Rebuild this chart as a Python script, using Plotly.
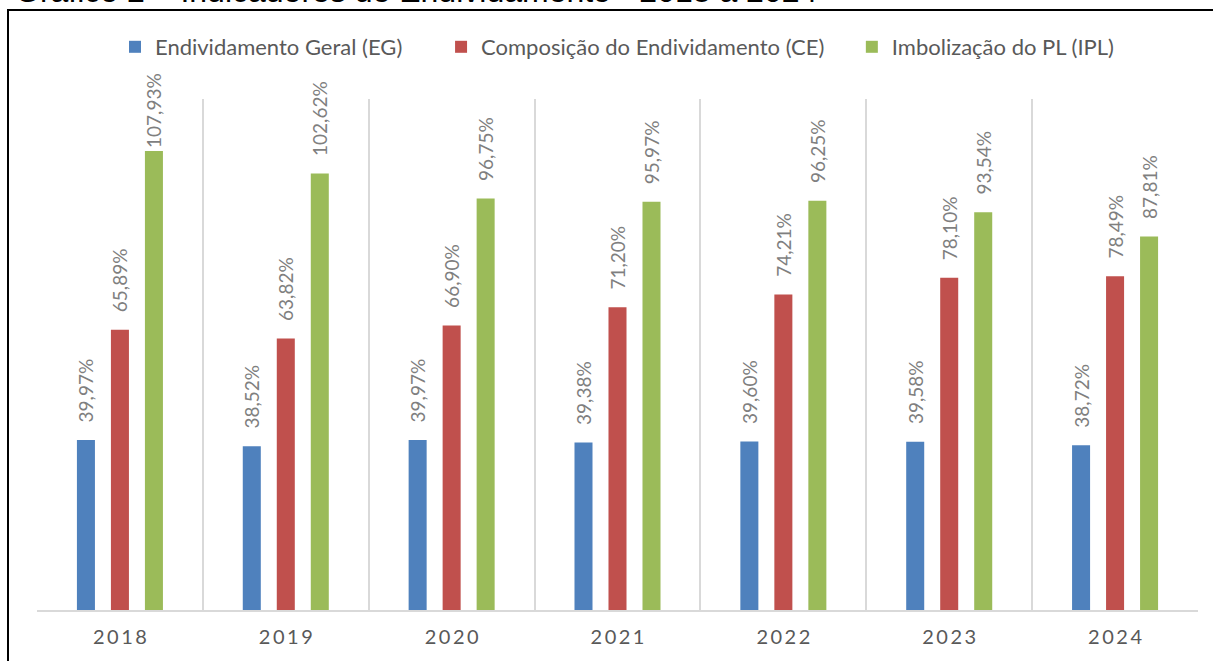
import plotly.graph_objects as go

years = ["2018", "2019", "2020", "2021", "2022", "2023", "2024"]
series_names = ["Endividamento Geral (EG)", "Composição do Endividamento (CE)", "Imbolização do PL (IPL)"]
eg = [39.97, 38.52, 39.97, 39.38, 39.60, 39.58, 38.72]
ce = [65.89, 63.82, 66.90, 71.20, 74.21, 78.10, 78.49]
ipl = [107.93, 102.62, 96.75, 95.97, 96.25, 93.54, 87.81]
colors = ["#4F81BD", "#C0504D", "#9BBB59"]
title_text = "Gráfico 2 – Indicadores de Endividamento - 2018 a 2024"

W, H = 1213, 661
L, R, T, B = 37, 15, 99, 51
pw, ph = W - L - R, H - T - B

def px_x(x):
    return (x - L) / pw

def px_y(y):
    return (H - B - y) / ph

FONT = "Lato, Liberation Sans, Arial, sans-serif"

def fmt(v):
    # labels that would run past the chart top are pulled close to the bar (as the source does)
    pad = 0 if v > 105 else 3
    return "\u00a0" * pad + f"{v:.2f}".replace(".", ",") + "%"

legend_pad = [6, 4, 0]

fig = go.Figure()
for name, vals, col, pad in zip(series_names, [eg, ce, ipl], colors, legend_pad):
    fig.add_trace(go.Bar(
        x=years, y=vals, name=name + "\u00a0" * pad,
        marker=dict(color=col, line=dict(width=0)),
        text=[fmt(v) for v in vals],
        textposition="outside", textangle=-90, constraintext="none",
        textfont=dict(family=FONT, size=19, color="#7f7f7f"),
        cliponaxis=False,
        hoverinfo="skip",
    ))

tick_text = ["\u2009".join(list(y)) for y in years]

fig.update_layout(
    width=W, height=H,
    margin=dict(l=L, r=R, t=T, b=B, autoexpand=False),
    paper_bgcolor="white", plot_bgcolor="white",
    barmode="group", bargap=0.385, bargroupgap=0.47,
    showlegend=True,
    legend=dict(
        orientation="h", x=px_x(115), xanchor="left", y=px_y(47), yanchor="middle",
        font=dict(family=FONT, size=22, color="#595959"),
        bgcolor="rgba(0,0,0,0)",
    ),
    xaxis=dict(
        type="category", tickmode="array", tickvals=years, ticktext=tick_text,
        tickson="boundaries", showgrid=True, gridcolor="#d9d9d9", gridwidth=2,
        showline=True, linecolor="#d9d9d9", linewidth=2, ticks="",
        ticklabelstandoff=8,
        tickfont=dict(family=FONT, size=20, color="#595959"),
        fixedrange=True,
    ),
    yaxis=dict(
        range=[0, 120.15], showgrid=False, showticklabels=False, zeroline=False,
        showline=False, ticks="", fixedrange=True,
    ),
    shapes=[dict(
        type="rect", xref="paper", yref="paper",
        x0=px_x(8), x1=px_x(1225), y0=px_y(675), y1=px_y(10),
        line=dict(color="black", width=2), fillcolor="rgba(0,0,0,0)", layer="above",
    )],
    annotations=[dict(
        text=title_text, xref="paper", yref="paper",
        x=px_x(13), xanchor="left", y=px_y(-9.5), yanchor="middle",
        showarrow=False, font=dict(family="Liberation Sans, Arial, sans-serif", size=32, color="black"),
    )],
)

fig.write_html("out.html", config={"displayModeBar": False},
               post_script="document.body.style.margin='0px';")
